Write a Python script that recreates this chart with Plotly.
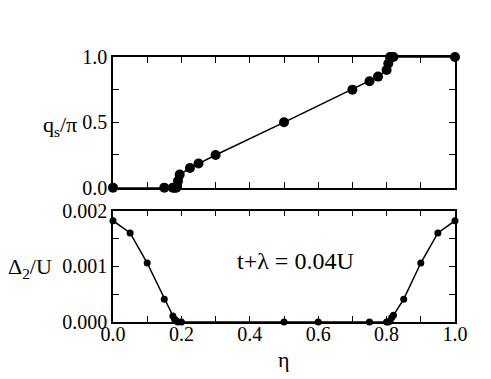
import plotly.graph_objects as go
from plotly.subplots import make_subplots

# top panel: q_s / pi versus eta
eta_q = [0.0, 0.15, 0.175, 0.18, 0.185, 0.19, 0.195, 0.225, 0.25, 0.3, 0.5,
         0.7, 0.75, 0.775, 0.8, 0.805, 0.81, 0.815, 0.82, 1.0]
q_s = [0.0, 0.0, 0.0, 0.0, 0.0, 0.05, 0.1, 0.15, 0.185, 0.25, 0.5,
       0.75, 0.815, 0.85, 0.9, 0.95, 1.0, 1.0, 1.0, 1.0]

# bottom panel: Delta_2 / U versus eta
eta_d = [0.0, 0.05, 0.1, 0.15, 0.175, 0.18, 0.185, 0.19, 0.2, 0.5, 0.6, 0.75,
         0.8, 0.805, 0.81, 0.815, 0.82, 0.85, 0.9, 0.95, 1.0]
delta2 = [0.00182, 0.0016, 0.00106, 0.00041, 0.00011, 0.00005, 0.00002, 0.0, 0.0,
          0.0, 0.0, 0.0, 0.0, 0.0, 0.00002, 0.00008, 0.00012, 0.00041, 0.00106,
          0.0016, 0.00182]

FONT = "Liberation Serif"

fig = make_subplots(rows=2, cols=1, vertical_spacing=0.087, row_heights=[0.54, 0.46])

fig.add_trace(go.Scatter(x=eta_q, y=q_s, mode="lines+markers", cliponaxis=False,
                         line=dict(color="black", width=1.5),
                         marker=dict(color="black", size=10)), row=1, col=1)
fig.add_trace(go.Scatter(x=eta_d, y=delta2, mode="lines+markers", cliponaxis=False,
                         line=dict(color="black", width=1.5),
                         marker=dict(color="black", size=7)), row=2, col=1)

axis_common = dict(showline=True, linecolor="black", linewidth=1.5, mirror="ticks",
                   ticks="inside", ticklen=6, tickwidth=1.2, tickcolor="black",
                   showgrid=False, zeroline=False, automargin=False,
                   tickfont=dict(family=FONT, size=20, color="black"))

minor_x = dict(dtick=0.1, ticks="inside", ticklen=6, tickwidth=1.2, tickcolor="black", showgrid=False)

fig.update_xaxes(range=[0, 1], tickvals=[0, 0.2, 0.4, 0.6, 0.8, 1.0], minor=minor_x,
                 showticklabels=False, row=1, col=1, **axis_common)
fig.update_xaxes(range=[0, 1], tickvals=[0, 0.2, 0.4, 0.6, 0.8, 1.0],
                 ticktext=["0.0", "0.2", "0.4", "0.6", "0.8", "1.0"], minor=minor_x,
                 ticklabelstandoff=-7, row=2, col=1, **axis_common)
fig.update_yaxes(range=[0, 1], tickvals=[0, 0.5, 1.0], ticktext=["0.0", "0.5", "1.0"],
                 minor=dict(dtick=0.25, ticks="inside", ticklen=6, tickwidth=1.2,
                            tickcolor="black", showgrid=False),
                 row=1, col=1, **axis_common)
fig.update_yaxes(range=[0, 0.002], tickvals=[0, 0.001, 0.002],
                 ticktext=["0.000", "0.001", "0.002"],
                 minor=dict(dtick=0.0005, ticks="inside", ticklen=6, tickwidth=1.2,
                            tickcolor="black", showgrid=False),
                 row=2, col=1, **axis_common)

fig.add_annotation(text="q<sub>s</sub>/π", xref="paper", yref="y", x=-0.155, y=0.47,
                   showarrow=False, xanchor="center", yanchor="middle",
                   font=dict(family=FONT, size=22, color="black"))
fig.add_annotation(text="Δ<sub>2</sub>/U", xref="paper", yref="y2", x=-0.243, y=0.00097,
                   showarrow=False, xanchor="center", yanchor="middle",
                   font=dict(family=FONT, size=22, color="black"))
fig.add_annotation(text="t+λ = 0.04U", xref="x2", yref="y2", x=0.535, y=0.0011,
                   showarrow=False, font=dict(family=FONT, size=24, color="black"))
fig.add_annotation(text="η", xref="paper", yref="paper", x=0.5, y=-0.143,
                   showarrow=False, xanchor="center", yanchor="middle",
                   font=dict(family=FONT, size=22, color="black"))

# page body adds an 8px offset, so margins are shifted to compensate
fig.update_layout(width=491, height=379, margin=dict(l=105, r=44, t=49, b=65),
                  plot_bgcolor="white", paper_bgcolor="white", showlegend=False,
                  font=dict(family=FONT, color="black"))

fig.write_html("out.html")
